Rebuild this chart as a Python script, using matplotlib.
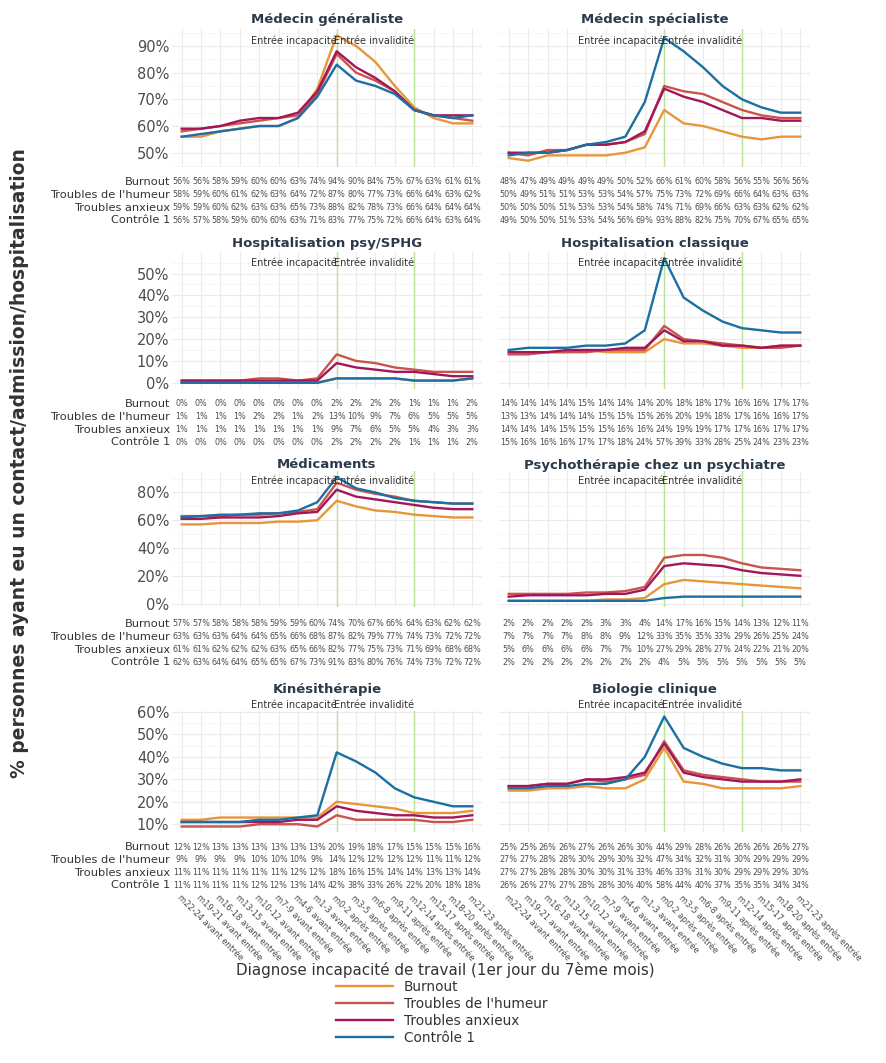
import matplotlib
matplotlib.use("Agg")
import matplotlib.pyplot as plt
from matplotlib.lines import Line2D
from matplotlib.ticker import MultipleLocator, FuncFormatter
from matplotlib.transforms import blended_transform_factory
import numpy as np

W, H = 886, 1063

periods = ["m22-24 avant entrée", "m19-21 avant entrée", "m16-18 avant entrée",
           "m13-15 avant entrée", "m10-12 avant entrée", "m7-9 avant entrée",
           "m4-6 avant entrée", "m1-3 avant entrée", "m0-2 après entrée",
           "m3-5 après entrée", "m6-8 après entrée", "m9-11 après entrée",
           "m12-14 après entrée", "m15-17 après entrée", "m18-20 après entrée",
           "m21-23 après entrée"]
groups = ["Burnout", "Troubles de l'humeur", "Troubles anxieux", "Contrôle 1"]
colors = ["#E8963A", "#C9544E", "#A3175A", "#1B6FA3"]

# % per period, one list per group (Burnout, humeur, anxieux, controle)
med_generaliste = [
    [56, 56, 58, 59, 60, 60, 63, 74, 94, 90, 84, 75, 67, 63, 61, 61],
    [58, 59, 60, 61, 62, 63, 64, 72, 87, 80, 77, 73, 66, 64, 63, 62],
    [59, 59, 60, 62, 63, 63, 65, 73, 88, 82, 78, 73, 66, 64, 64, 64],
    [56, 57, 58, 59, 60, 60, 63, 71, 83, 77, 75, 72, 66, 64, 63, 64]]
med_specialiste = [
    [48, 47, 49, 49, 49, 49, 50, 52, 66, 61, 60, 58, 56, 55, 56, 56],
    [50, 49, 51, 51, 53, 53, 54, 57, 75, 73, 72, 69, 66, 64, 63, 63],
    [50, 50, 50, 51, 53, 53, 54, 58, 74, 71, 69, 66, 63, 63, 62, 62],
    [49, 50, 50, 51, 53, 54, 56, 69, 93, 88, 82, 75, 70, 67, 65, 65]]
hosp_psy = [
    [0, 0, 0, 0, 0, 0, 0, 0, 2, 2, 2, 2, 1, 1, 1, 2],
    [1, 1, 1, 1, 2, 2, 1, 2, 13, 10, 9, 7, 6, 5, 5, 5],
    [1, 1, 1, 1, 1, 1, 1, 1, 9, 7, 6, 5, 5, 4, 3, 3],
    [0, 0, 0, 0, 0, 0, 0, 0, 2, 2, 2, 2, 1, 1, 1, 2]]
hosp_classique = [
    [14, 14, 14, 14, 15, 14, 14, 14, 20, 18, 18, 17, 16, 16, 17, 17],
    [13, 13, 14, 14, 14, 15, 15, 15, 26, 20, 19, 18, 17, 16, 16, 17],
    [14, 14, 14, 15, 15, 15, 16, 16, 24, 19, 19, 17, 17, 16, 17, 17],
    [15, 16, 16, 16, 17, 17, 18, 24, 57, 39, 33, 28, 25, 24, 23, 23]]
medicaments = [
    [57, 57, 58, 58, 58, 59, 59, 60, 74, 70, 67, 66, 64, 63, 62, 62],
    [63, 63, 63, 64, 64, 65, 66, 68, 87, 82, 79, 77, 74, 73, 72, 72],
    [61, 61, 62, 62, 62, 63, 65, 66, 82, 77, 75, 73, 71, 69, 68, 68],
    [62, 63, 64, 64, 65, 65, 67, 73, 91, 83, 80, 76, 74, 73, 72, 72]]
psychotherapie = [
    [2, 2, 2, 2, 2, 3, 3, 4, 14, 17, 16, 15, 14, 13, 12, 11],
    [7, 7, 7, 7, 8, 8, 9, 12, 33, 35, 35, 33, 29, 26, 25, 24],
    [5, 6, 6, 6, 6, 7, 7, 10, 27, 29, 28, 27, 24, 22, 21, 20],
    [2, 2, 2, 2, 2, 2, 2, 2, 4, 5, 5, 5, 5, 5, 5, 5]]
kine = [
    [12, 12, 13, 13, 13, 13, 13, 13, 20, 19, 18, 17, 15, 15, 15, 16],
    [9, 9, 9, 9, 10, 10, 10, 9, 14, 12, 12, 12, 12, 11, 11, 12],
    [11, 11, 11, 11, 11, 11, 12, 12, 18, 16, 15, 14, 14, 13, 13, 14],
    [11, 11, 11, 11, 12, 12, 13, 14, 42, 38, 33, 26, 22, 20, 18, 18]]
biologie = [
    [25, 25, 26, 26, 27, 26, 26, 30, 44, 29, 28, 26, 26, 26, 26, 27],
    [27, 27, 28, 28, 30, 29, 30, 32, 47, 34, 32, 31, 30, 29, 29, 29],
    [27, 27, 28, 28, 30, 30, 31, 33, 46, 33, 31, 30, 29, 29, 29, 30],
    [26, 26, 27, 27, 28, 28, 30, 40, 58, 44, 40, 37, 35, 35, 34, 34]]

rows = [
    ("Médecin généraliste", med_generaliste, "Médecin spécialiste", med_specialiste),
    ("Hospitalisation psy/SPHG", hosp_psy, "Hospitalisation classique", hosp_classique),
    ("Médicaments", medicaments, "Psychothérapie chez un psychiatre", psychotherapie),
    ("Kinésithérapie", kine, "Biologie clinique", biologie),
]
row_tick_step = [0.1, 0.1, 0.2, 0.1]
entree_incap = 8
entree_inval = 12

# layout in pixels: (plot top, plot bottom, title y, label y, table first row y)
row_px = [(29, 167, 20, 41, 182),
          (252, 389, 243, 263, 404),
          (471, 607, 465, 481, 624),
          (711, 832, 690, 705, 847)]
col_px = [(172, 482), (499, 810)]
row_step = 12.8

title_c = "#2b3a4a"
text_c = "#4d4d4d"

fig = plt.figure(figsize=(W / 100, H / 100), dpi=100)
x = np.arange(len(periods))

for r, (t1, d1, t2, d2) in enumerate(rows):
    top, bot, ty, ly, tab_y = row_px[r]
    allv = np.array(d1 + d2) / 100
    lo, hi = allv.min(), allv.max()
    pad = (hi - lo) * 0.05
    step = row_tick_step[r]
    for c, (title, data) in enumerate([(t1, d1), (t2, d2)]):
        left, right = col_px[c]
        ax = fig.add_axes([left / W, 1 - bot / H, (right - left) / W, (bot - top) / H])
        ax.set_xlim(-0.5, len(periods) - 0.5)
        ax.set_ylim(lo - pad, hi + pad)
        ax.yaxis.set_major_locator(MultipleLocator(step))
        ax.yaxis.set_minor_locator(MultipleLocator(step / 2))
        ax.yaxis.set_major_formatter(FuncFormatter(lambda v, p: f"{v * 100:.0f}%"))
        ax.set_xticks(x)
        ax.grid(True, which="major", color="#ebebeb", lw=0.8)
        ax.grid(True, which="minor", axis="y", color="#f3f3f3", lw=0.5)
        ax.set_axisbelow(True)
        for s in ax.spines.values():
            s.set_visible(False)
        ax.tick_params(which="both", length=0, labelsize=10.5, labelcolor=text_c, pad=2)
        ax.tick_params(axis="x", labelbottom=False)
        if c == 1:
            ax.tick_params(axis="y", labelleft=False)
        ax.axvline(entree_incap, color="#b9e29a", lw=1.0, zorder=1)
        ax.axvline(entree_inval, color="#b9e29a", lw=1.0, zorder=1)
        for g, vals in enumerate(data):
            ax.plot(x, np.array(vals) / 100, color=colors[g], lw=1.7, zorder=3)

        tr = blended_transform_factory(ax.transData, fig.transFigure)
        fig.text((left + right) / 2 / W, 1 - ty / H, title, ha="center", va="center",
                 fontsize=9.5, fontweight="bold", color=title_c)
        ax.text(entree_incap, 1 - ly / H, "Entrée incapacité", transform=tr,
                ha="right", va="center", fontsize=7, color="#333333")
        ax.text(entree_inval, 1 - ly / H, "Entrée invalidité", transform=tr,
                ha="right", va="center", fontsize=7, color="#333333")

        for g, vals in enumerate(data):
            yy = 1 - (tab_y + g * row_step) / H
            for i, v in enumerate(vals):
                ax.text(i, yy, f"{v}%", transform=tr, ha="center", va="center",
                        fontsize=5.8, color=text_c, clip_on=False)
            if c == 0:
                fig.text(170 / W, yy, groups[g], ha="right", va="center",
                         fontsize=8.2, color="#333333")

        if r == len(rows) - 1:
            for i, lab in enumerate(periods):
                ax.text(i, 1 - 893 / H, lab, transform=tr, rotation=-45,
                        rotation_mode="anchor", ha="left", va="top",
                        fontsize=6, color=text_c)

fig.text(20 / W, 1 - 463 / H, "% personnes ayant eu un contact/admission/hospitalisation",
         rotation=90, ha="center", va="center", fontsize=13.5, fontweight="bold",
         color="#333333")
fig.text(445 / W, 1 - 970 / H, "Diagnose incapacité de travail (1er jour du 7ème mois)",
         ha="center", va="center", fontsize=10.9, color="#333333")

handles = [Line2D([], [], color=colors[g], lw=1.7) for g in range(len(groups))]
fig.legend(handles, groups, loc="upper left", bbox_to_anchor=(336 / W, 1 - 980 / H),
           frameon=False, fontsize=9.8, handlelength=4.2, labelspacing=0.22,
           handletextpad=0.8, borderaxespad=0, borderpad=0, labelcolor="#333333")

fig.savefig("out.png", dpi=100)
